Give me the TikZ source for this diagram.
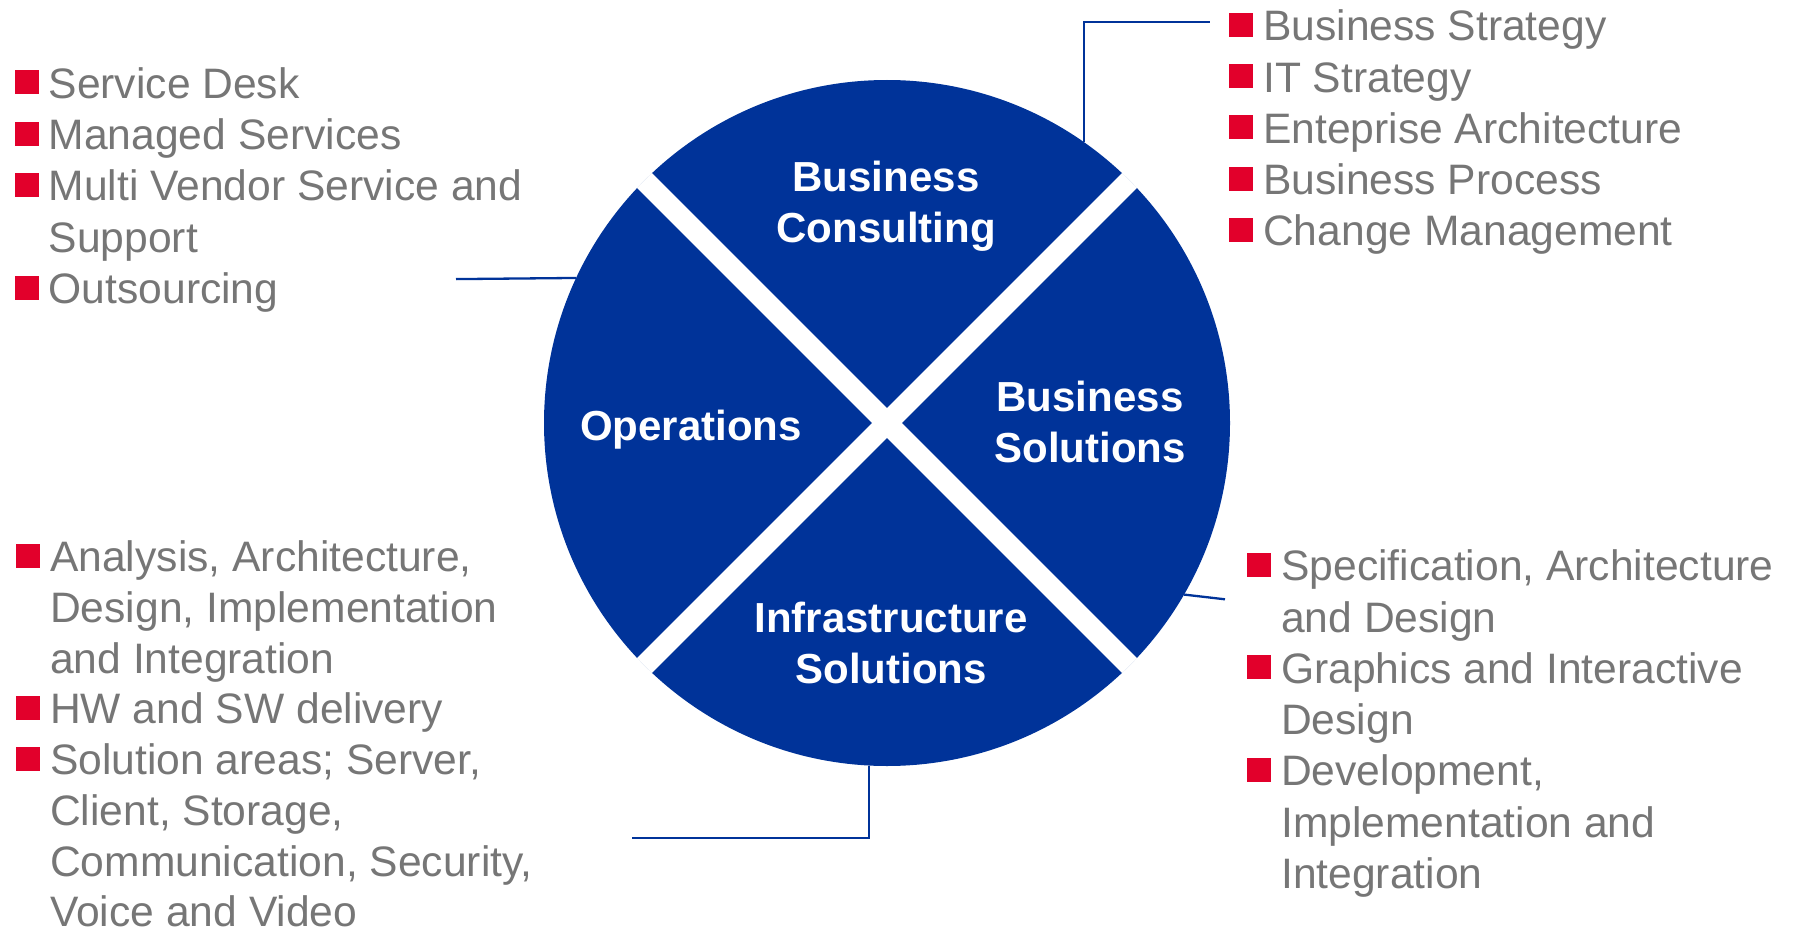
\documentclass[tikz,border=0pt]{standalone}
\usepackage{fontspec}
\setmainfont{Liberation Sans}
\usepackage{tikz}

\definecolor{wheelblue}{HTML}{003399}
\definecolor{bulletred}{HTML}{E2002B}
\definecolor{itemgray}{HTML}{767676}
\newcommand{\bul}{\llap{\textcolor{bulletred}{\rule[4pt]{24pt}{24pt}}\hspace{10pt}}}

\begin{document}
\begin{tikzpicture}[x=1pt, y=-1pt,
    seg/.style={text=white, font=\fontsize{42}{51}\selectfont\bfseries, align=center, anchor=base, inner sep=0pt},
    items/.style={text=itemgray, font=\fontsize{42.6}{51.3}\selectfont, align=left, anchor=base west, inner sep=0pt},
    link/.style={draw=wheelblue, line width=2.3pt}]

                \useasboundingbox (0,0) rectangle (1794,931);

                % the wheel and its four cuts
                \node[circle, fill=wheelblue, minimum size=686pt, inner sep=0pt] (wheel) at (887,423) {};
                \draw[white, line width=21pt] (wheel.135) -- (wheel.-45);
                \draw[white, line width=21pt] (wheel.45) -- (wheel.-135);

                % labels sit on the baseline of their last line
                \node[seg] (bc) at (886,242.7) {Business\\Consulting};
                \node[seg] (op) at (691,440.2) {Operations};
                \node[seg] (bs) at (1090,462) {Business\\Solutions};
                \node[seg] (is) at (891,683) {Infrastructure\\Solutions};

                % item lists
                \node[items] (bclist) at (1263,245.9) {\bul Business Strategy\\\bul IT Strategy\\\bul Enteprise Architecture\\\bul Business Process\\\bul Change Management};
                \node[items] (oplist) at (48.5,303.5) {\bul Service Desk\\\bul Managed Services\\\bul Multi Vendor Service and\\Support\\\bul Outsourcing};
                \node[items, font=\fontsize{42.6}{50.7}\selectfont] (islist) at (50,926.7) {\bul Analysis, Architecture,\\Design, Implementation\\and Integration\\\bul HW and SW delivery\\\bul Solution areas; Server,\\Client, Storage,\\Communication, Security,\\Voice and Video};
                \node[items] (bslist) at (1281,888.5) {\bul Specification, Architecture\\and Design\\\bul Graphics and Interactive\\Design\\\bul Development,\\Implementation and\\Integration};

                % connectors
                \coordinate (bcend) at (1210,22);
                \coordinate (opend) at (456,279.1);
                \coordinate (isend) at (632.3,838.3);
                \coordinate (bsend) at (1225,599.3);

                \draw[link] (wheel.55.5) |- (bcend);
                \draw[link] (wheel.155.2) -- (opend);
                \draw[link] (wheel.267.6) |- (isend);
                \draw[link] (wheel.-30.9) -- (bsend);

\end{tikzpicture}
\end{document}
